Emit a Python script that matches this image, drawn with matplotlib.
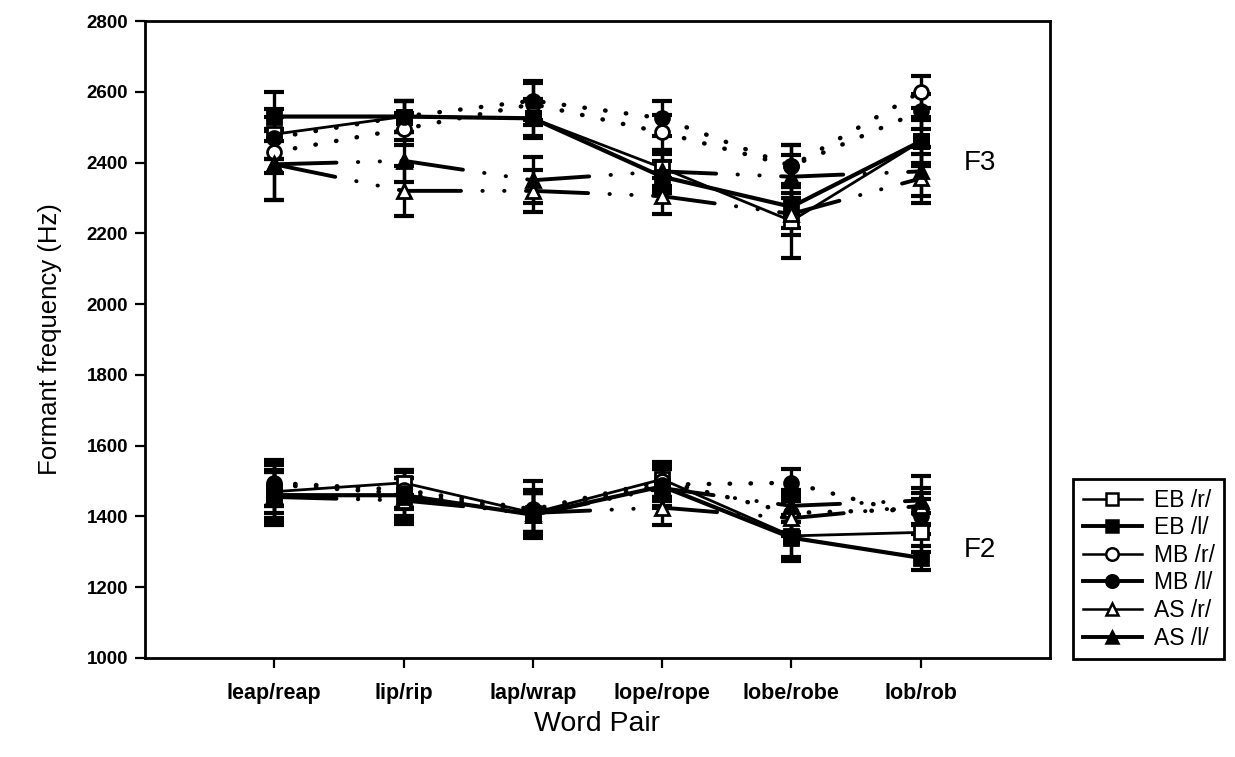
import matplotlib
matplotlib.use("Agg")
import matplotlib.pyplot as plt
import numpy as np

plt.rcParams['font.family'] = ['Liberation Sans', 'DejaVu Sans']

pairs = ["leap/reap", "lip/rip", "lap/wrap", "lope/rope", "lobe/robe", "lob/rob"]
series_names = ["EB /r/", "EB /l/", "MB /r/", "MB /l/", "AS /r/", "AS /l/"]

# third formant means (Hz)
f3_eb_r = [2480, 2530, 2525, 2385, 2235, 2460]
f3_eb_l = [2530, 2530, 2525, 2360, 2275, 2460]
f3_mb_r = [2430, 2495, 2565, 2485, 2390, 2600]
f3_mb_l = [2470, 2530, 2575, 2525, 2390, 2545]
f3_as_r = [2395, 2320, 2320, 2305, 2255, 2355]
f3_as_l = [2395, 2405, 2350, 2375, 2360, 2375]

# third formant error (Hz)
f3_eb_r_err = [70, 45, 50, 50, 105, 60]
f3_eb_l_err = [70, 45, 55, 45, 60, 70]
f3_mb_r_err = [60, 45, 60, 50, 60, 45]
f3_mb_l_err = [60, 45, 55, 50, 60, 50]
f3_as_r_err = [100, 70, 60, 50, 60, 70]
f3_as_l_err = [100, 60, 65, 50, 60, 70]

# second formant means (Hz)
f2_eb_r = [1470, 1495, 1410, 1505, 1345, 1355]
f2_eb_l = [1460, 1460, 1405, 1485, 1340, 1283]
f2_mb_r = [1495, 1475, 1420, 1500, 1410, 1420]
f2_mb_l = [1490, 1465, 1415, 1490, 1495, 1400]
f2_as_r = [1455, 1445, 1410, 1425, 1395, 1430]
f2_as_l = [1460, 1455, 1405, 1480, 1430, 1445]

# second formant error (Hz)
f2_eb_r_err = [60, 35, 55, 50, 60, 55]
f2_eb_l_err = [85, 70, 60, 55, 65, 33]
f2_mb_r_err = [65, 50, 80, 45, 55, 45]
f2_mb_l_err = [60, 45, 60, 45, 40, 50]
f2_as_r_err = [70, 65, 55, 50, 50, 50]
f2_as_l_err = [65, 55, 60, 55, 45, 70]

f3 = [f3_eb_r, f3_eb_l, f3_mb_r, f3_mb_l, f3_as_r, f3_as_l]
f3_err = [f3_eb_r_err, f3_eb_l_err, f3_mb_r_err, f3_mb_l_err, f3_as_r_err, f3_as_l_err]
f2 = [f2_eb_r, f2_eb_l, f2_mb_r, f2_mb_l, f2_as_r, f2_as_l]
f2_err = [f2_eb_r_err, f2_eb_l_err, f2_mb_r_err, f2_mb_l_err, f2_as_r_err, f2_as_l_err]

dotted = (0, (0.1, 4.6))
dash_dot_dot = (0, (16, 5.5, 0.1, 5.5, 0.1, 5.5))
styles = [
    dict(ls="-", lw=2.0, marker="s", mfc="white"),
    dict(ls="-", lw=3.0, marker="s", mfc="black"),
    dict(ls=dotted, lw=3.2, marker="o", mfc="white"),
    dict(ls=dotted, lw=3.2, marker="o", mfc="black"),
    dict(ls=dash_dot_dot, lw=2.8, marker="^", mfc="white"),
    dict(ls=dash_dot_dot, lw=2.8, marker="^", mfc="black"),
]

fig = plt.figure(figsize=(12.35, 7.57), dpi=100)
ax = fig.add_axes([145 / 1235, 1 - 658 / 757, 905 / 1235, 637 / 757])

x = np.arange(1, len(pairs) + 1)
for i in range(len(series_names)):
    st = styles[i]
    for vals, errs in ((f3[i], f3_err[i]), (f2[i], f2_err[i])):
        ax.errorbar(x, vals, yerr=errs, fmt="none", ecolor="black",
                    elinewidth=2.4, capsize=7, capthick=3.0, zorder=2)
        ax.plot(x, vals, color="black", linestyle=st["ls"], lw=st["lw"],
                marker=st["marker"], markersize=10, mfc=st["mfc"],
                mec="black", mew=2.0, dash_capstyle="round",
                solid_capstyle="butt", zorder=3)

ax.set_xlim(0, 7)
ax.set_ylim(1000, 2800)
ax.set_xticks(x)
ax.set_xticklabels(pairs, fontsize=15.5, fontweight="bold")
ax.set_yticks(np.arange(1000, 2801, 200))
ax.set_yticklabels([str(v) for v in range(1000, 2801, 200)], fontsize=13.5,
                   fontweight="bold")
ax.tick_params(axis="y", direction="out", length=7, width=1.6, pad=5)
ax.tick_params(axis="x", direction="out", length=7, width=1.6, pad=11)
for sp in ax.spines.values():
    sp.set_linewidth(2.0)

ax.set_xlabel("Word Pair", fontsize=20.5, labelpad=5)
ax.set_ylabel("Formant frequency (Hz)", fontsize=18.5, labelpad=18)

ax.text(6.33, 2400, "F3", fontsize=20, va="center", ha="left")
ax.text(6.33, 1305, "F2", fontsize=20, va="center", ha="left")

leg_handles = []
for i, name in enumerate(series_names):
    st = styles[i]
    h, = plt.plot([], [], color="black", linestyle="-", lw=1.8 if i % 2 == 0 else 2.8,
                  marker=st["marker"], markersize=9, mfc=st["mfc"], mec="black", mew=1.8)
    leg_handles.append(h)
leg = fig.legend(leg_handles, series_names, loc="upper left",
                 bbox_to_anchor=(1062 / 1235, 1 - 468 / 757), fontsize=16.5,
                 frameon=True, fancybox=False, edgecolor="black", framealpha=1,
                 handlelength=2.6, handletextpad=0.5, labelspacing=0.2,
                 borderpad=0.4)
leg.get_frame().set_linewidth(2.0)

fig.savefig("out.png", dpi=100)
